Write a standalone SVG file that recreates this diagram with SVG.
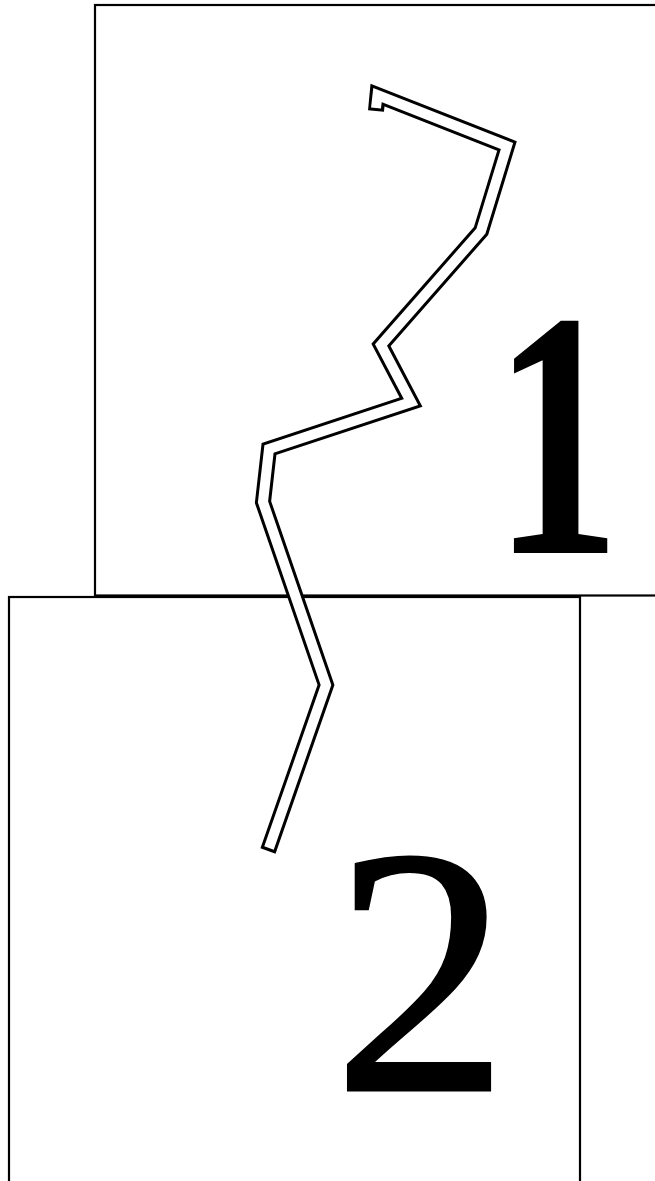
<svg xmlns="http://www.w3.org/2000/svg" width="655" height="1181" viewBox="0 0 655 1181">
<style>
.box{fill:none;stroke:#000;stroke-width:2.2}
.num{font-family:"Liberation Serif","Times New Roman",serif;font-size:352px;fill:#000;text-anchor:middle}
.bandO{fill:none;stroke:#000;stroke-width:16;stroke-linejoin:miter;stroke-miterlimit:10}
.bandI{fill:none;stroke:#fff;stroke-width:10;stroke-linejoin:miter;stroke-miterlimit:10}
</style>
<rect width="655" height="1181" fill="#fff"/>
<g id="node1">
<rect class="box" x="95" y="5" width="600" height="590.5"/>
<text class="num" transform="translate(557,553) scale(0.72,1)" x="0" y="0" font-weight="bold">1</text>
</g>
<g id="node2">
<rect class="box" x="9" y="597" width="571" height="600"/>
<text class="num" x="421" y="1090" stroke="#000" stroke-width="3">2</text>
</g>
<g id="connectors">
<polyline class="bandO" points="376,111 377.5,95 507,146 481,231 381,345 411,402 269,449 263,502 326,685 268,851"/>
<polyline class="bandI" points="376,108 377.5,95 507,146 481,231 381,345 411,402 269,449 263,502 326,685 269,848"/>
</g>
</svg>
